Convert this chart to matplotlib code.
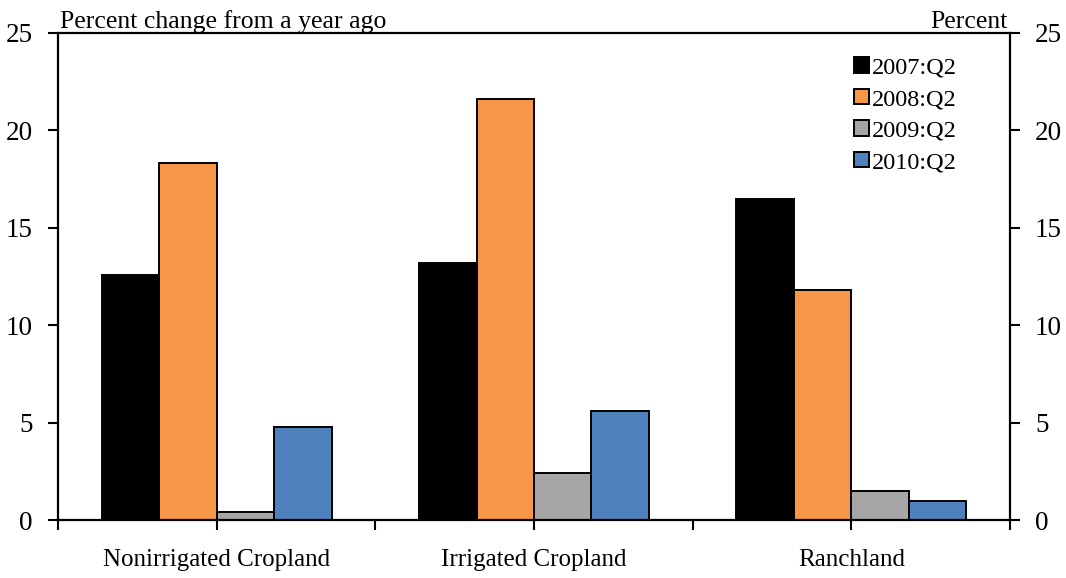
import matplotlib
matplotlib.use("Agg")
import matplotlib.pyplot as plt
import numpy as np

plt.rcParams['font.family'] = ['Liberation Serif', 'DejaVu Serif']

categories = ["Nonirrigated Cropland", "Irrigated Cropland", "Ranchland"]
series = ["2007:Q2", "2008:Q2", "2009:Q2", "2010:Q2"]
values = {
    "2007:Q2": [12.6, 13.2, 16.5],
    "2008:Q2": [18.3, 21.6, 11.8],
    "2009:Q2": [0.4, 2.4, 1.5],
    "2010:Q2": [4.8, 5.6, 1.0],
}
colors = ["#000000", "#F79646", "#A6A6A6", "#4F81BD"]

fig = plt.figure(figsize=(10.66, 5.78), dpi=100)
ax = fig.add_axes([0.0544, 0.1003, 0.8931, 0.8427])

centers = np.arange(len(categories)) + 0.5
w = 0.181
for k, s in enumerate(series):
    ax.bar(centers + (k - 1.5) * w, values[s], w, color=colors[k],
           edgecolor="black", linewidth=1.4, label=s, zorder=2)

ax.set_xlim(0, 3)
ax.set_ylim(0, 25)
ax.set_yticks(range(0, 26, 5))
ticks = np.arange(0, 3.01, 0.5)
ax.set_xticks(ticks)
ax.set_xticklabels([categories[int(t)] if t % 1 == 0.5 else "" for t in ticks])
ax.tick_params(axis="x", direction="out", length=7, width=1.5, labelsize=18, pad=14)
ax.tick_params(axis="y", direction="out", length=7, width=1.5, labelsize=19.5,
               left=True, right=True, labelleft=True, labelright=True, pad=11)
for sp in ax.spines.values():
    sp.set_linewidth(1.6)

ax.text(0.002, 1.0, "Percent change from a year ago", transform=ax.transAxes,
        fontsize=18.5, ha="left", va="bottom")
ax.text(0.997, 1.0, "Percent", transform=ax.transAxes,
        fontsize=18.5, ha="right", va="bottom")

ax.legend(loc="upper left", bbox_to_anchor=(0.826, 0.97), frameon=False,
          fontsize=17.5, handlelength=0.6, handleheight=0.6,
          handletextpad=0.15, labelspacing=0.42, borderaxespad=0)

fig.savefig("out.png", dpi=100)
